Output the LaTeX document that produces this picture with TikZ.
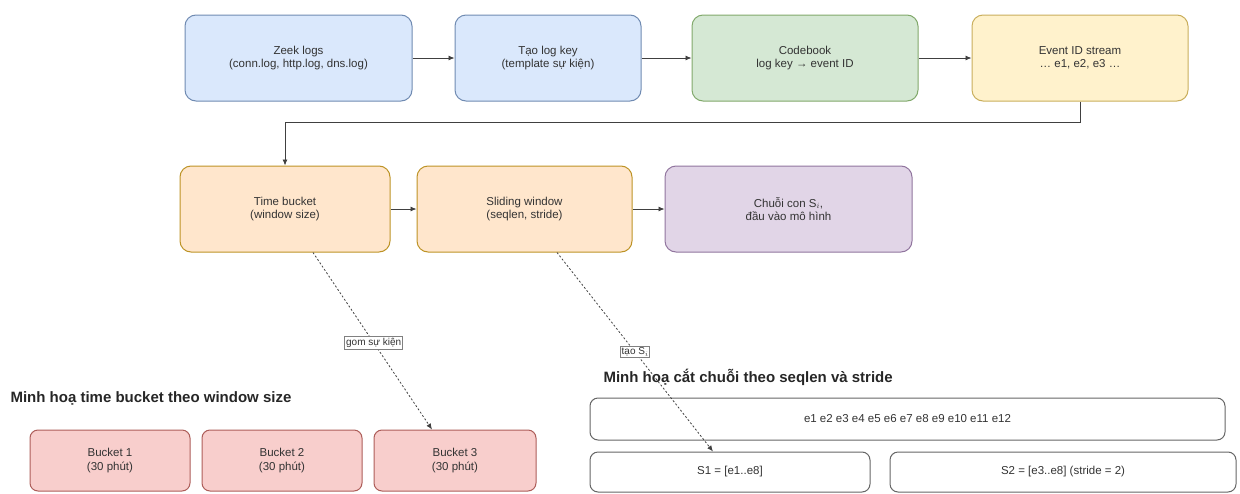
\documentclass[tikz,border=0pt]{standalone}
\usepackage{fontspec}
\setmainfont{Liberation Sans}
\usetikzlibrary{arrows.meta,calc}

\definecolor{bluefill}{HTML}{DAE8FC}\definecolor{blueline}{HTML}{6C8EBF}
\definecolor{greenfill}{HTML}{D5E8D4}\definecolor{greenline}{HTML}{82B366}
\definecolor{yellowfill}{HTML}{FFF2CC}\definecolor{yellowline}{HTML}{D6B656}
\definecolor{orangefill}{HTML}{FFE6CC}\definecolor{orangeline}{HTML}{D79B00}
\definecolor{purplefill}{HTML}{E1D5E7}\definecolor{purpleline}{HTML}{9673A6}
\definecolor{redfill}{HTML}{F8CECC}\definecolor{redline}{HTML}{B85450}
\definecolor{txt}{HTML}{333333}

\tikzset{
  box/.style={draw, rounded corners=11pt, line width=1pt, align=center,
    font=\fontsize{11.5}{13.5}\selectfont, text=txt, inner sep=2pt},
  bluebox/.style={box, fill=bluefill, draw=blueline!80!gray},
  greenbox/.style={box, fill=greenfill, draw=greenline!80!gray},
  yellowbox/.style={box, fill=yellowfill, draw=yellowline!85!gray},
  orangebox/.style={box, fill=orangefill, draw=orangeline!70!gray},
  purplebox/.style={box, fill=purplefill, draw=purpleline!80!gray},
  redbox/.style={box, fill=redfill, draw=redline!80!gray, rounded corners=8pt},
  plainbox/.style={box, fill=white, draw=black!60, rounded corners=8pt},
  flow/.style={draw=black!75, line width=0.8pt, -{Latex[length=6pt,width=5pt]}},
  dashflow/.style={draw=black!75, line width=0.8pt, dash pattern=on 2pt off 2pt,
    -{Latex[length=6pt,width=5pt]}},
  tag/.style={draw=black!50, solid, fill=white, font=\fontsize{10}{11}\selectfont,
    text=txt, inner sep=1.5pt},
  heading/.style={anchor=west, font=\bfseries\fontsize{15}{17}\selectfont, text=black!85}
}

\begin{document}
\begin{tikzpicture}[x=1pt, y=-1pt]
\useasboundingbox (0,0) rectangle (1240,493);

% pipeline, first row
\node[bluebox,   minimum width=227pt, minimum height=86pt] (zeek)  at (298.5,58) {Zeek logs\\(conn.log, http.log, dns.log)};
\node[bluebox,   minimum width=186pt, minimum height=86pt] (logkey) at (548,58) {Tạo log key\\(template sự kiện)};
\node[greenbox,  minimum width=226pt, minimum height=86pt] (codebook) at (805,58) {Codebook\\log key → event ID};
\node[yellowbox, minimum width=216pt, minimum height=86pt] (stream) at (1080,58) {Event ID stream\\… e1, e2, e3 …};

% pipeline, second row
\node[orangebox, minimum width=210pt, minimum height=86pt] (tbucket) at (285,209) {Time bucket\\(window size)};
\node[orangebox, minimum width=215pt, minimum height=86pt] (swindow) at (524.5,209) {Sliding window\\(seqlen, stride)};
\node[purplebox, minimum width=247pt, minimum height=86pt] (subseq) at (788.5,209) {Chuỗi con S$_i$,\\đầu vào mô hình};

\draw[flow] (zeek) -- (logkey);
\draw[flow] (logkey) -- (codebook);
\draw[flow] (codebook) -- (stream);
\draw[flow] (stream.south) -- ++(0,21) -| (tbucket.north);
\draw[flow] (tbucket) -- (swindow);
\draw[flow] (swindow) -- (subseq);

% time bucket illustration
\node[heading] (bhead) at (7,398) {Minh hoạ time bucket theo window size};
\node[redbox, minimum width=160pt, minimum height=61pt] (b1) at (110,460.5) {Bucket 1\\(30 phút)};
\node[redbox, minimum width=160pt, minimum height=61pt] (b2) at (282,460.5) {Bucket 2\\(30 phút)};
\node[redbox, minimum width=162pt, minimum height=61pt] (b3) at (455,460.5) {Bucket 3\\(30 phút)};

% sequence slicing illustration
\node[heading] (shead) at (600,377) {Minh hoạ cắt chuỗi theo seqlen và stride};
\node[plainbox, minimum width=635pt, minimum height=42pt] (events) at (907.5,419) {e1 e2 e3 e4 e5 e6 e7 e8 e9 e10 e11 e12};
\node[plainbox, minimum width=280pt, minimum height=40pt] (s1) at (730,472) {S1 = [e1..e8]};
\node[plainbox, minimum width=346pt, minimum height=40pt] (s2) at (1063,472) {S2 = [e3..e8] (stride = 2)};

% links from the pipeline to the illustrations
\draw[dashflow] ([xshift=28pt]tbucket.south) -- node[tag, pos=0.51] (gom) {gom sự kiện} ([xshift=-23pt]b3.north);
\draw[dashflow] ([xshift=32.5pt]swindow.south) -- node[tag, pos=0.5] (tao) {tạo S$_i$} ([xshift=-17pt]s1.north);
\end{tikzpicture}
\end{document}
